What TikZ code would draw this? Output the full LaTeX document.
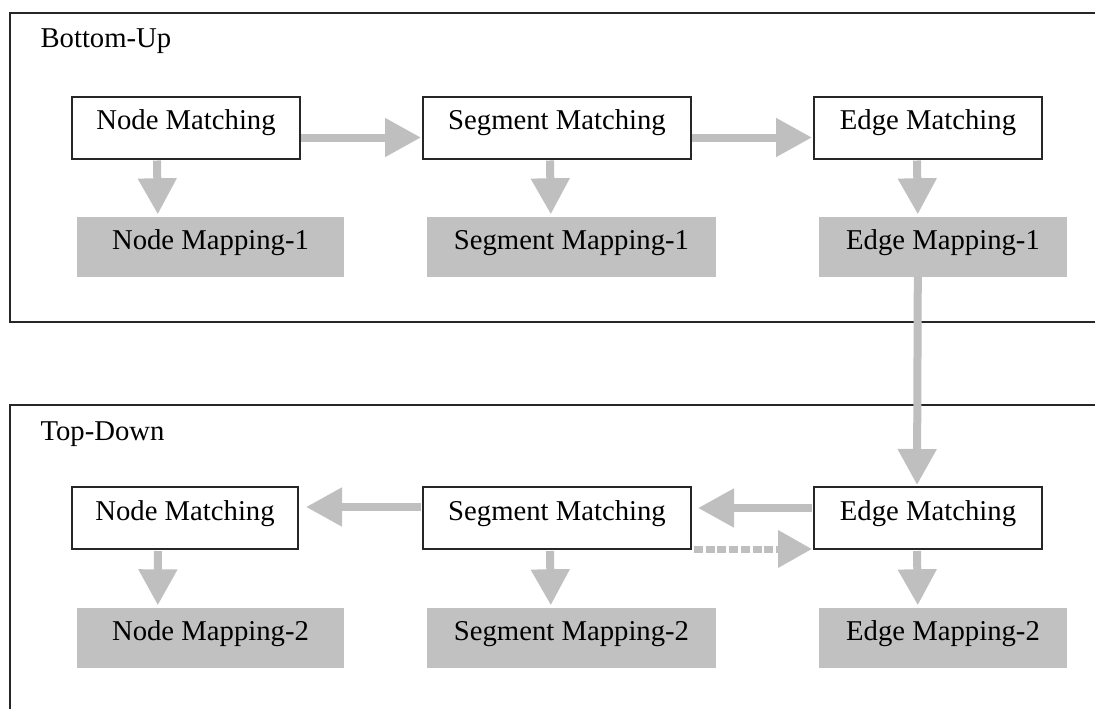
\documentclass[tikz,border=0pt]{standalone}
\usepackage{fontspec}
\setmainfont{Liberation Serif}
\usetikzlibrary{arrows.meta,calc}
\definecolor{flowgray}{gray}{0.75}
\definecolor{mapgray}{gray}{0.755}
\definecolor{framecol}{gray}{0.15}
\tikzset{
  every node/.style={font=\fontsize{28.7}{34}\selectfont},
  matchbox/.style={draw=framecol, line width=2pt, fill=white, inner sep=0pt,
    text height=0.62em, text depth=0.22em},
  mapbox/.style={fill=mapgray, inner sep=0pt, minimum height=60pt,
    text height=0.8em, text depth=0.22em},
  frame/.style={draw=framecol, line width=2pt},
  flow/.style={draw=flowgray, line width=8pt,
    -{Triangle[length=36pt,width=37pt]}},
  dflow/.style={draw=flowgray, line width=7pt, dash pattern=on 9pt off 2.7pt,
    -{Triangle[length=34pt,width=36pt]}},
}
\begin{document}
\begin{tikzpicture}[x=1pt,y=-1pt]
\useasboundingbox (0,0) rectangle (1095,709);

% two stage frames, both open towards the right edge
\draw[frame] (1096,13) -- (10,13) -- (10,322) -- (1096,322);
\draw[frame] (1096,405) -- (10,405) -- (10,710);
\node[anchor=base west] (bu) at (37,48) {Bottom-Up};
\node[anchor=base west] (td) at (37,440) {Top-Down};

% bottom-up stage
\node[matchbox, minimum width=228pt, minimum height=62pt] (nm1) at (186,127.5) {Node Matching};
\node[matchbox, minimum width=268pt, minimum height=62pt] (sm1) at (557,127.5) {Segment Matching};
\node[matchbox, minimum width=228pt, minimum height=62pt] (em1) at (928,127.5) {Edge Matching};
\node[mapbox, minimum width=267pt] (np1) at (210.5,246.5) {Node Mapping-1};
\node[mapbox, minimum width=289pt] (sp1) at (571.5,246.5) {Segment Mapping-1};
\node[mapbox, minimum width=248pt] (ep1) at (943,246.5) {Edge Mapping-1};

% top-down stage
\node[matchbox, minimum width=226pt, minimum height=62pt] (nm2) at (185,518) {Node Matching};
\node[matchbox, minimum width=268pt, minimum height=62pt] (sm2) at (557,518) {Segment Matching};
\node[matchbox, minimum width=228pt, minimum height=62pt] (em2) at (928,518) {Edge Matching};
\node[mapbox, minimum width=267pt] (np2) at (210.5,637.5) {Node Mapping-2};
\node[mapbox, minimum width=289pt] (sp2) at (571.5,637.5) {Segment Mapping-2};
\node[mapbox, minimum width=248pt] (ep2) at (943,637.5) {Edge Mapping-2};

% bottom-up flow
\draw[flow] ($(nm1.east)+(0,10)$) -- ($(sm1.west)+(-1,10)$);
\draw[flow] ($(sm1.east)+(0,10)$) -- ($(em1.west)+(-1,10)$);
\draw[flow] ($(nm1.south west)+(86,1)$) -- ($(np1.north west)+(81,-2)$);
\draw[flow] ($(sm1.south west)+(128,1)$) -- ($(sp1.north west)+(124,-2)$);
\draw[flow] ($(em1.south west)+(104,1)$) -- ($(ep1.north west)+(99,-2)$);

% hand-over between the stages
\draw[flow] ($(ep1.south west)+(99,0)$) -- ($(em2.north west)+(104,-1)$);

% top-down flow
\draw[flow] ($(em2.west)+(-1,-10)$) -- ($(sm2.east)+(6,-10)$);
\draw[flow] ($(sm2.west)+(-1,-11)$) -- ($(nm2.east)+(7,-11)$);
\draw[dflow] ($(sm2.south east)+(2,-1)$) -- ($(em2.south west)+(-1,-1)$);
\draw[flow] ($(nm2.south west)+(87,1)$) -- ($(np2.north west)+(81,-2)$);
\draw[flow] ($(sm2.south west)+(128,1)$) -- ($(sp2.north west)+(124,-2)$);
\draw[flow] ($(em2.south west)+(104,1)$) -- ($(ep2.north west)+(99,-2)$);
\end{tikzpicture}
\end{document}
